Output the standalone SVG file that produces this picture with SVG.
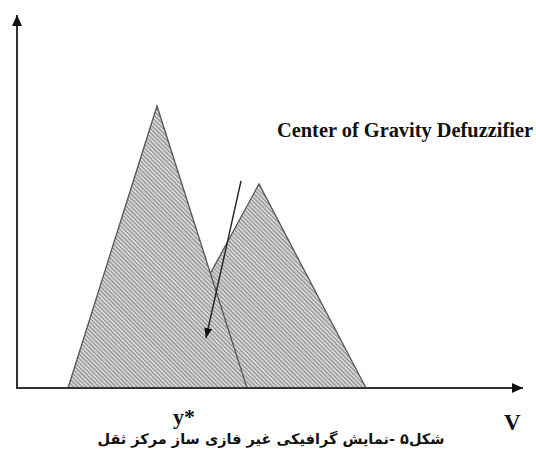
<svg xmlns="http://www.w3.org/2000/svg" width="536" height="450" viewBox="0 0 536 450">
  <style>
    .axis { stroke: #333; stroke-width: 2; fill: none; }
    .tri { fill: url(#hatch); stroke: #555; stroke-width: 1.3; stroke-linejoin: miter; }
    .lbl { font-family: "Liberation Serif", "Times New Roman", serif; font-weight: bold; fill: #111; }
    .cap { font-family: "DejaVu Sans", "Noto Sans", sans-serif; font-weight: bold; fill: #111; }
  </style>
  <defs>
    <pattern id="hatch" width="3" height="3" patternUnits="userSpaceOnUse" patternTransform="rotate(-45)">
      <rect width="3" height="3" fill="#d4d4d4"/>
      <line x1="0.5" y1="0" x2="0.5" y2="3" stroke="#8a8a8a" stroke-width="1"/>
    </pattern>
    <marker id="ah" markerWidth="10" markerHeight="8" refX="10" refY="4" orient="auto" markerUnits="userSpaceOnUse">
      <path d="M0,0 L10,4 L0,8 Z" fill="#111"/>
    </marker>
    <marker id="axh" markerWidth="11" markerHeight="10" refX="11" refY="5" orient="auto" markerUnits="userSpaceOnUse">
      <path d="M0,0 L11,5 L0,10 Z" fill="#111"/>
    </marker>
  </defs>

  <g id="shapes">
    <polygon id="tri-right" class="tri" points="148,388 259,184 366,388"/>
    <polygon id="tri-left" class="tri" points="68,388 157,106 247,388"/>
  </g>

  <g id="connectors">
    <line class="axis" x1="17" y1="389" x2="17" y2="15" marker-end="url(#axh)"/>
    <line class="axis" x1="16" y1="388" x2="523" y2="388" marker-end="url(#axh)"/>
    <line x1="241" y1="181" x2="206" y2="338" stroke="#222" stroke-width="1.4" marker-end="url(#ah)"/>
  </g>

  <g id="labels">
    <text class="lbl" x="173" y="424" font-size="22">y*</text>
    <text class="lbl" x="277" y="137" font-size="20" textLength="256" lengthAdjust="spacingAndGlyphs">Center of Gravity Defuzzifier</text>
    <text class="lbl" x="504" y="430" font-size="23">V</text>
    <text class="cap" x="271" y="444" font-size="14.5" text-anchor="middle" direction="rtl">شکل۵ -نمایش گرافیکی غیر فازی ساز مرکز ثقل</text>
  </g>
</svg>
